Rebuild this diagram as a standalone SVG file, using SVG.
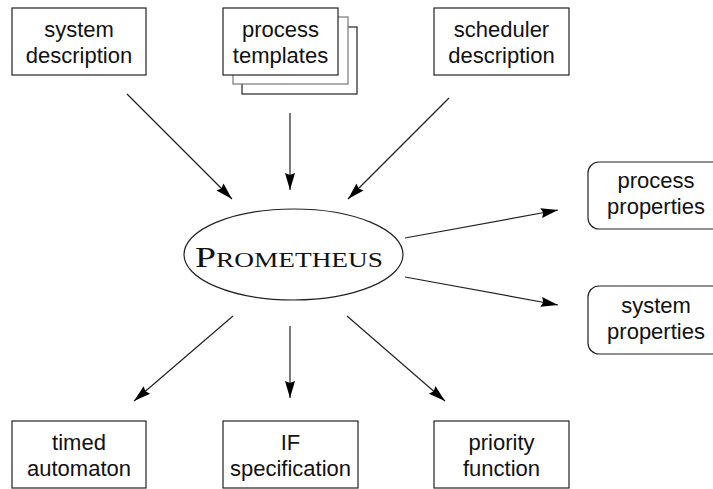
<svg xmlns="http://www.w3.org/2000/svg" width="713" height="489" viewBox="0 0 713 489">
<style>
.box{fill:#fff;stroke:#222;stroke-width:1.2}
.gbox{fill:#fff;stroke:#777;stroke-width:1.2}
.lbl{font-family:"Liberation Sans",Arial,sans-serif;font-size:22px;fill:#111;text-anchor:middle}
.conn line{stroke:#222;stroke-width:1.2;marker-end:url(#ah)}
.serif{font-family:"Liberation Serif","Times New Roman",serif;fill:#111}
</style>
<defs>
<marker id="ah" markerUnits="userSpaceOnUse" markerWidth="18" markerHeight="12" refX="17" refY="5" orient="auto" viewBox="0 0 18 10">
<path d="M0,0 L17,5 L0,10 L2,5 z" fill="#000"/>
</marker>
</defs>
<rect width="713" height="489" fill="#fff"/>
<g id="system-description">
<rect class="box" x="12" y="8" width="134" height="67"/>
<text class="lbl" x="79" y="37">system</text>
<text class="lbl" x="79" y="63">description</text>
</g>
<g id="process-templates">
<rect class="box" x="242" y="27" width="115" height="67"/>
<rect class="gbox" x="233" y="17" width="115" height="67"/>
<rect class="box" x="223" y="8" width="115" height="67"/>
<text class="lbl" x="280.5" y="37">process</text>
<text class="lbl" x="280.5" y="63">templates</text>
</g>
<g id="scheduler-description">
<rect class="box" x="434" y="8" width="135" height="67"/>
<text class="lbl" x="501.5" y="37">scheduler</text>
<text class="lbl" x="501.5" y="63">description</text>
</g>
<g id="prometheus">
<ellipse cx="293.5" cy="254.5" rx="109.5" ry="45.5" fill="#fff" stroke="#222" stroke-width="1.2"/>
<text class="serif" x="195" y="267" textLength="188" lengthAdjust="spacingAndGlyphs"><tspan font-size="29">P</tspan><tspan font-size="21">ROMETHEUS</tspan></text>
</g>
<g id="process-properties">
<rect class="box" x="588" y="162" width="136" height="67" rx="11"/>
<text class="lbl" x="656" y="188">process</text>
<text class="lbl" x="656" y="214">properties</text>
</g>
<g id="system-properties">
<rect class="box" x="588" y="286" width="136" height="68" rx="11"/>
<text class="lbl" x="656" y="313">system</text>
<text class="lbl" x="656" y="339">properties</text>
</g>
<g id="timed-automaton">
<rect class="box" x="12" y="421" width="134" height="67"/>
<text class="lbl" x="79" y="450">timed</text>
<text class="lbl" x="79" y="476">automaton</text>
</g>
<g id="if-specification">
<rect class="box" x="223" y="421" width="135" height="67"/>
<text class="lbl" x="290.5" y="450">IF</text>
<text class="lbl" x="290.5" y="476">specification</text>
</g>
<g id="priority-function">
<rect class="box" x="434" y="421" width="135" height="67"/>
<text class="lbl" x="501.5" y="450">priority</text>
<text class="lbl" x="501.5" y="476">function</text>
</g>
<g id="connectors" class="conn">
<line x1="127" y1="94" x2="232" y2="199"/>
<line x1="290" y1="113" x2="290" y2="190"/>
<line x1="449" y1="98" x2="348" y2="199"/>
<line x1="405" y1="238" x2="558" y2="210"/>
<line x1="405" y1="277" x2="558" y2="305"/>
<line x1="233" y1="316" x2="134" y2="401"/>
<line x1="290" y1="326" x2="290" y2="398"/>
<line x1="347" y1="316" x2="445" y2="401"/>
</g>
</svg>
